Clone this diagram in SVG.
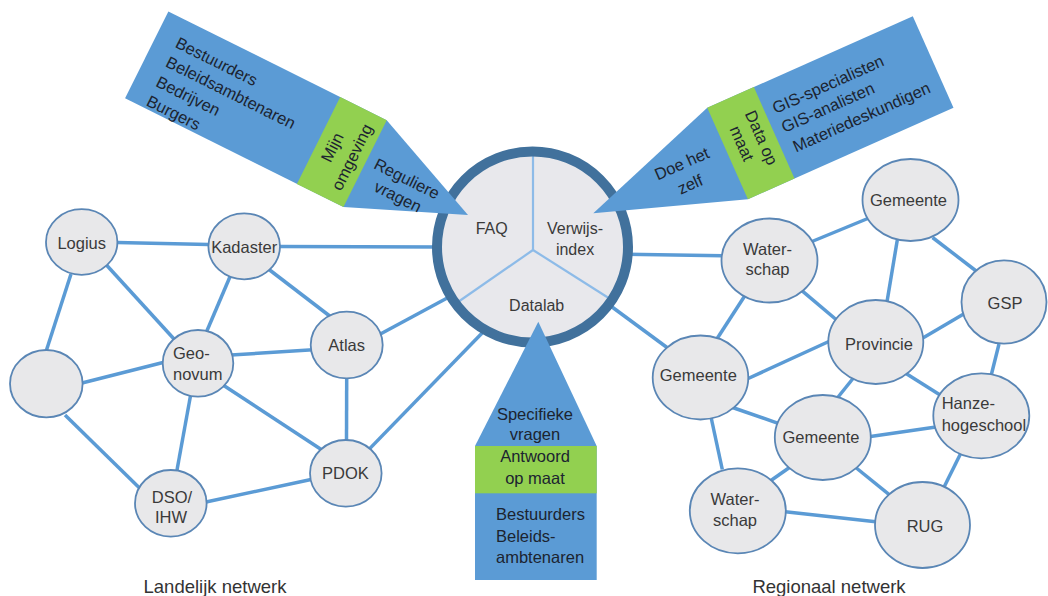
<svg xmlns="http://www.w3.org/2000/svg" width="1048" height="596" viewBox="0 0 1048 596">
<style>
text{font-family:"Liberation Sans",Arial,sans-serif;}
.edge{stroke:#5B9BD5;stroke-width:3.5;stroke-linecap:butt;fill:none;}
.node{fill:#E8E8EA;stroke:#5A86B5;stroke-width:1.8;}
.nl{font-size:16.5px;fill:#3a3a3a;}
.c{text-anchor:middle;}
.arr{fill:#5B9BD5;}
.grn{fill:#92D050;}
.at{font-size:16.5px;fill:#1c2430;}
.hub{font-size:16px;fill:#3a3a3a;text-anchor:middle;}
.div{stroke:#8DBBE8;stroke-width:2.2;fill:none;}
.cap{font-size:18.5px;fill:#333;text-anchor:middle;}
</style>

<g id="connectors">
  <!-- landelijk -->
  <line class="edge" x1="117" y1="242.5" x2="208.5" y2="244.5"/>
  <line class="edge" x1="279" y1="246.5" x2="440" y2="247"/>
  <line class="edge" x1="71" y1="274" x2="46.5" y2="350"/>
  <line class="edge" x1="106" y1="264.5" x2="174" y2="339"/>
  <line class="edge" x1="232" y1="272" x2="206" y2="333"/>
  <line class="edge" x1="269" y1="269.5" x2="331" y2="317"/>
  <line class="edge" x1="82" y1="383" x2="163" y2="362.5"/>
  <line class="edge" x1="231" y1="355" x2="313" y2="349.8"/>
  <line class="edge" x1="191" y1="393" x2="177" y2="470"/>
  <line class="edge" x1="223" y1="385" x2="322" y2="450"/>
  <line class="edge" x1="65" y1="415" x2="140" y2="488.5"/>
  <line class="edge" x1="206" y1="502" x2="311" y2="479.5"/>
  <line class="edge" x1="346.7" y1="377" x2="346.5" y2="441"/>
  <line class="edge" x1="379" y1="334.7" x2="450" y2="296.5"/>
  <line class="edge" x1="368" y1="450.4" x2="487" y2="328"/>
  <!-- regionaal -->
  <line class="edge" x1="626" y1="254.2" x2="723" y2="255.7"/>
  <line class="edge" x1="608" y1="304" x2="667" y2="347.5"/>
  <line class="edge" x1="812" y1="241.5" x2="869" y2="218"/>
  <line class="edge" x1="801" y1="289.8" x2="839" y2="322"/>
  <line class="edge" x1="745" y1="295.5" x2="716.5" y2="339.5"/>
  <line class="edge" x1="897.3" y1="240" x2="886.8" y2="303"/>
  <line class="edge" x1="932.5" y1="237.5" x2="977.5" y2="272"/>
  <line class="edge" x1="964.5" y1="313.5" x2="922" y2="338.5"/>
  <line class="edge" x1="999" y1="344" x2="991" y2="376"/>
  <line class="edge" x1="746" y1="379.5" x2="831" y2="340.5"/>
  <line class="edge" x1="855" y1="376" x2="836.5" y2="399"/>
  <line class="edge" x1="906" y1="373.5" x2="942.5" y2="396.5"/>
  <line class="edge" x1="732.5" y1="407.5" x2="781" y2="424.3"/>
  <line class="edge" x1="711" y1="417" x2="722.3" y2="469.5"/>
  <line class="edge" x1="867" y1="437" x2="936" y2="427"/>
  <line class="edge" x1="790.5" y1="466.8" x2="769.5" y2="481.5"/>
  <line class="edge" x1="854.5" y1="466.5" x2="892" y2="496.8"/>
  <line class="edge" x1="783" y1="511.4" x2="878" y2="522"/>
  <line class="edge" x1="961.3" y1="452.3" x2="943.7" y2="487.7"/>
</g>

<g id="hub">
  <circle cx="532.5" cy="247" r="95.5" fill="#E8E8EC"/>
  <line class="div" x1="533" y1="250" x2="533" y2="150"/>
  <line class="div" x1="533" y1="250" x2="458" y2="302"/>
  <line class="div" x1="533" y1="250" x2="611" y2="299.5"/>
  <circle cx="532.5" cy="247" r="95.5" fill="none" stroke="#41719C" stroke-width="10"/>
  <text class="hub" x="491.7" y="234">FAQ</text>
  <text class="hub" x="575" y="234">Verwijs-</text>
  <text class="hub" x="575" y="255">index</text>
  <text class="hub" x="536.7" y="311">Datalab</text>
</g>

<g id="n-logius"><ellipse class="node" cx="81.7" cy="242" rx="35.7" ry="32.8"/><text class="nl c" x="81.7" y="248.5">Logius</text></g>
<g id="n-kadaster"><ellipse class="node" cx="244.2" cy="246.3" rx="35.8" ry="33"/><text class="nl c" x="244.2" y="252.5">Kadaster</text></g>
<g id="n-blank"><ellipse class="node" cx="46.3" cy="383.7" rx="36.3" ry="33.7"/></g>
<g id="n-geonovum"><ellipse class="node" cx="198" cy="363.3" rx="35.3" ry="33.3"/><text class="nl" x="173" y="359">Geo-</text><text class="nl" x="173" y="379.5">novum</text></g>
<g id="n-atlas"><ellipse class="node" cx="346.7" cy="345" rx="36" ry="33.3"/><text class="nl c" x="346.7" y="351">Atlas</text></g>
<g id="n-pdok"><ellipse class="node" cx="345.8" cy="473.3" rx="35.8" ry="33.3"/><text class="nl c" x="345.5" y="479.3">PDOK</text></g>
<g id="n-dso"><ellipse class="node" cx="170.8" cy="503.3" rx="35.8" ry="33.3"/><text class="nl c" x="172" y="502.5">DSO/</text><text class="nl c" x="171" y="522.5">IHW</text></g>

<g id="n-gemeente1"><ellipse class="node" cx="910.5" cy="200" rx="48" ry="41"/><text class="nl c" x="908.5" y="205.5">Gemeente</text></g>
<g id="n-waterschap1"><ellipse class="node" cx="769.5" cy="260.5" rx="48" ry="42"/><text class="nl c" x="767.5" y="255">Water-</text><text class="nl c" x="767.5" y="275">schap</text></g>
<g id="n-gsp"><ellipse class="node" cx="1004" cy="302" rx="42.5" ry="41.7"/><text class="nl c" x="1005" y="309">GSP</text></g>
<g id="n-provincie"><ellipse class="node" cx="875.8" cy="342" rx="47.5" ry="42"/><text class="nl c" x="879" y="350">Provincie</text></g>
<g id="n-gemeente2"><ellipse class="node" cx="700.5" cy="377.5" rx="47.8" ry="42"/><text class="nl c" x="698.3" y="381">Gemeente</text></g>
<g id="n-hanze"><ellipse class="node" cx="981.3" cy="415.8" rx="48" ry="42.5"/><text class="nl" x="941.7" y="409">Hanze-</text><text class="nl" x="941.7" y="430.5">hogeschool</text></g>
<g id="n-gemeente3"><ellipse class="node" cx="822.8" cy="437.5" rx="48" ry="42.5"/><text class="nl c" x="821" y="442.5">Gemeente</text></g>
<g id="n-waterschap2"><ellipse class="node" cx="737.8" cy="510.8" rx="48" ry="42.5"/><text class="nl c" x="735" y="505">Water-</text><text class="nl c" x="735" y="525.5">schap</text></g>
<g id="n-rug"><ellipse class="node" cx="922.5" cy="525" rx="47.5" ry="43"/><text class="nl c" x="925" y="532">RUG</text></g>

<g id="arrow-faq" transform="translate(468,215) rotate(26.5)">
  <polygon class="arr" points="-359,-48.5 -115,-48.5 0,0 -115,48.5 -359,48.5"/>
  <rect class="grn" x="-167" y="-48.5" width="52" height="97"/>
  <text class="at" x="-338" y="-19.5">Bestuurders</text>
  <text class="at" x="-338" y="2">Beleidsambtenaren</text>
  <text class="at" x="-338" y="24">Bedrijven</text>
  <text class="at" x="-338" y="45.5">Burgers</text>
  <g transform="rotate(-90)">
    <text class="at c" x="0" y="-146">Mijn</text>
    <text class="at c" x="0" y="-124">omgeving</text>
  </g>
  <text class="at c" x="-71" y="0.5">Reguliere</text>
  <text class="at c" x="-71" y="20.5">vragen</text>
</g>

<g id="arrow-verwijs">
  <g transform="translate(593.3,213.3) rotate(156)">
    <polygon class="arr" points="-372,-50 -147,-50 0,0 -147,50 -372,50"/>
    <rect class="grn" x="-198" y="-50" width="51" height="100"/>
  </g>
  <text class="at" transform="translate(775.5,114) rotate(-24)">GIS-specialisten</text>
  <text class="at" transform="translate(784.5,133) rotate(-24)">GIS-analisten</text>
  <text class="at" transform="translate(796,152.5) rotate(-24)">Materiedeskundigen</text>
  <text class="at c" transform="translate(684.1,168.8) rotate(-24)">Doe het</text>
  <text class="at c" transform="translate(692.4,189.5) rotate(-24)">zelf</text>
  <text class="at c" transform="translate(756.3,140) rotate(66)">Data op</text>
  <text class="at c" transform="translate(736.6,145.8) rotate(66)">maat</text>
</g>

<g id="arrow-datalab">
  <polygon class="arr" points="538.3,321.7 596.7,446 596.7,580 475,580 475,446"/>
  <rect class="grn" x="475" y="446" width="121.7" height="47.3"/>
  <text class="at c" x="535" y="420">Specifieke</text>
  <text class="at c" x="535" y="440">vragen</text>
  <text class="at c" x="535" y="462">Antwoord</text>
  <text class="at c" x="535" y="483.5">op maat</text>
  <text class="at" x="496" y="520">Bestuurders</text>
  <text class="at" x="496" y="541.5">Beleids-</text>
  <text class="at" x="496" y="563">ambtenaren</text>
</g>

<g id="captions">
  <text class="cap" x="215" y="593">Landelijk netwerk</text>
  <text class="cap" x="829" y="593">Regionaal netwerk</text>
</g>
</svg>
